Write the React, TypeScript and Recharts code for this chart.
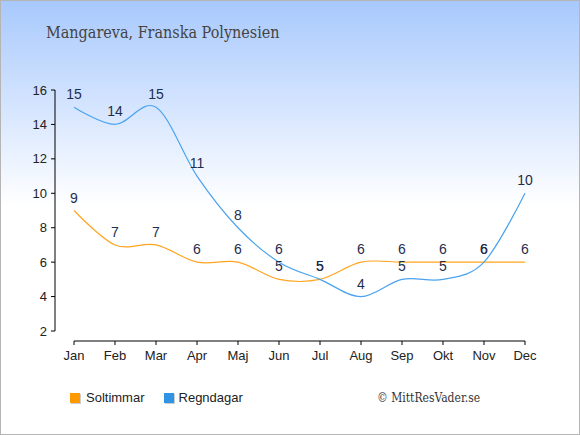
import React from "react";
import { LineChart, Line, XAxis, YAxis, LabelList } from "recharts";

const months = ["Jan", "Feb", "Mar", "Apr", "Maj", "Jun", "Jul", "Aug", "Sep", "Okt", "Nov", "Dec"];
const sunHours = [9, 7, 7, 6, 6, 5, 5, 6, 6, 6, 6, 6];
const rainDays = [15, 14, 15, 11, 8, 6, 5, 4, 5, 5, 6, 10];
const yTicks = [2, 4, 6, 8, 10, 12, 14, 16];

const data = months.map((month, i) => ({
  month,
  sun: sunHours[i],
  rain: rainDays[i],
}));

// catmull-rom style spline (same as d3 curveCardinal with tension 0)
const cardinalCurve = (context: any) => {
  let x0 = NaN, y0 = NaN, x1 = NaN, y1 = NaN, x2 = NaN, y2 = NaN;
  let pt = 0;
  let line = NaN;
  const k = 1 / 6;
  const seg = (x: number, y: number) => {
    context.bezierCurveTo(
      x1 + k * (x2 - x0),
      y1 + k * (y2 - y0),
      x2 + k * (x1 - x),
      y2 + k * (y1 - y),
      x2,
      y2
    );
  };
  return {
    areaStart() { line = 0; },
    areaEnd() { line = NaN; },
    lineStart() { x0 = x1 = x2 = y0 = y1 = y2 = NaN; pt = 0; },
    lineEnd() {
      if (pt === 2) context.lineTo(x2, y2);
      else if (pt === 3) seg(x1, y1);
      if (line || (line !== 0 && pt === 1)) context.closePath();
      line = 1 - line;
    },
    point(x: number, y: number) {
      x = +x; y = +y;
      if (pt === 0) {
        pt = 1;
        if (line) context.lineTo(x, y);
        else context.moveTo(x, y);
      } else if (pt === 1) {
        pt = 2;
        x1 = x; y1 = y;
      } else {
        pt = 3;
        seg(x, y);
      }
      x0 = x1; x1 = x2; x2 = x;
      y0 = y1; y1 = y2; y2 = y;
    },
  };
};

const sans = "'Liberation Sans', Arial, sans-serif";
const labelColor = "#1f2d4d";

export default function App() {
  return (
    <div
      style={{
        position: "relative",
        width: 580,
        height: 435,
        boxSizing: "border-box",
        border: "1px solid #b5b5b5",
        background: "linear-gradient(to bottom, #a8c9fd 0px, #ffffff 205px)",
        fontFamily: sans,
      }}
    >
      <style>{`body{margin:0}`}</style>
      <div
        style={{
          position: "absolute",
          left: 45,
          top: 23,
          fontFamily: "'DejaVu Serif Condensed', 'DejaVu Serif', serif",
          fontSize: 16,
          lineHeight: "18px",
          color: "#444",
        }}
      >
        Mangareva, Franska Polynesien
      </div>
      <LineChart
        width={578}
        height={433}
        data={data}
        margin={{ top: 89, right: 54, bottom: 63, left: 0 }}
      >
        <XAxis xAxisId="gap" dataKey="month" height={10} axisLine={false} tick={false} tickLine={false} />
        <XAxis
          xAxisId="main"
          dataKey="month"
          scale="point"
          padding={{ left: 0, right: 0 }}
          height={30}
          stroke="#000"
          tickSize={4}
          tickMargin={6}
          tick={{ fill: "#222", fontSize: 13, fontFamily: sans }}
          interval={0}
        />
        <YAxis yAxisId="gap" width={19} domain={[2, 16]} axisLine={false} tick={false} tickLine={false} />
        <YAxis
          yAxisId="main"
          width={54}
          domain={[2, 16]}
          ticks={yTicks}
          stroke="#000"
          tickSize={4}
          tickMargin={4}
          tick={{ fill: "#222", fontSize: 13, fontFamily: sans }}
          interval={0}
        />
        <Line
          xAxisId="main"
          yAxisId="main"
          dataKey="sun"
          type={cardinalCurve as any}
          stroke="#ffa41f"
          strokeWidth={1.2}
          dot={false}
          isAnimationActive={false}
        >
          <LabelList dataKey="sun" position="top" offset={8} fill={labelColor} fontSize={14} fontFamily={sans} />
        </Line>
        <Line
          xAxisId="main"
          yAxisId="main"
          dataKey="rain"
          type={cardinalCurve as any}
          stroke="#4aa3f0"
          strokeWidth={1.2}
          dot={false}
          isAnimationActive={false}
        >
          <LabelList dataKey="rain" position="top" offset={8} fill={labelColor} fontSize={14} fontFamily={sans} />
        </Line>
      </LineChart>
      <div
        style={{
          position: "absolute",
          left: 69,
          top: 389,
          display: "flex",
          alignItems: "center",
          fontSize: 13,
          lineHeight: "16px",
          color: "#222",
        }}
      >
        <span style={{ width: 10, height: 10, background: "#ff9900", boxShadow: "1px 1px 0 #ccc", marginRight: 6 }} />
        <span style={{ marginRight: 19 }}>Soltimmar</span>
        <span style={{ width: 10, height: 10, background: "#2f93e6", boxShadow: "1px 1px 0 #ccc", marginRight: 5 }} />
        <span>Regndagar</span>
      </div>
      <div
        style={{
          position: "absolute",
          left: 376,
          top: 390,
          fontFamily: "'DejaVu Serif Condensed', 'Liberation Serif', serif",
          fontSize: 12,
          lineHeight: "14px",
          color: "#333",
        }}
      >
        © MittResVader.se
      </div>
    </div>
  );
}
